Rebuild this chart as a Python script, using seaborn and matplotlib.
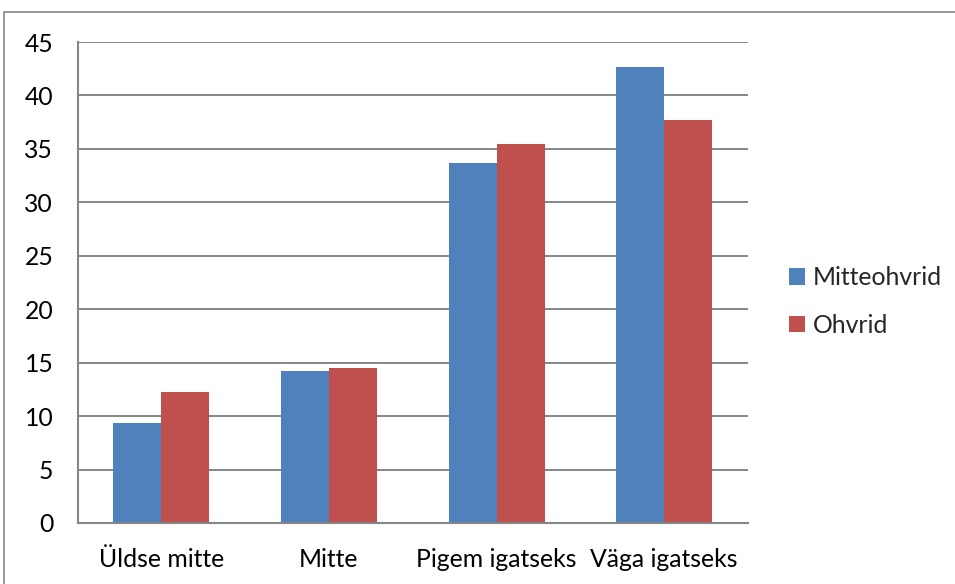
import matplotlib
matplotlib.use("Agg")
import matplotlib.pyplot as plt
import seaborn as sns
import pandas as pd
from matplotlib.patches import Rectangle, Patch

categories = ["Üldse mitte", "Mitte", "Pigem igatseks", "Väga igatseks"]
series_names = ["Mitteohvrid", "Ohvrid"]
mitteohvrid = [9.4, 14.2, 33.7, 42.7]
ohvrid = [12.3, 14.5, 35.45, 37.7]
y_ticks = [0, 5, 10, 15, 20, 25, 30, 35, 40, 45]
colors = ["#4F81BD", "#C0504D"]

df = pd.DataFrame({
    "cat": categories * 2,
    "series": [series_names[0]] * 4 + [series_names[1]] * 4,
    "value": mitteohvrid + ohvrid,
})

sns.set_style("white")
plt.rcParams["font.family"] = ["Lato", "DejaVu Sans"]
FS = 17.8

fig = plt.figure(figsize=(9.55, 5.84), dpi=100)
ax = fig.add_axes([77.5 / 955, (584 - 523) / 584, (748 - 77.5) / 955, (523 - 42) / 584])

sns.barplot(data=df, x="cat", y="value", hue="series", palette=colors,
            width=0.572, gap=0, ax=ax, legend=False, saturation=1,
            edgecolor="none", linewidth=0, zorder=3)

ax.set_ylim(0, 45)
ax.set_xlim(-0.5, 3.5)
ax.set_yticks(y_ticks)
ax.set_yticklabels([str(t) for t in y_ticks], fontsize=FS, color="#000000")
ax.set_xlabel("")
ax.set_ylabel("")
ax.set_xticks(range(4))
ax.set_xticklabels(categories, fontsize=FS, color="#000000")
ax.set_xticks([-0.5, 0.5, 1.5, 2.5, 3.5], minor=True)
ax.tick_params(axis="x", which="major", length=0, pad=18)
ax.tick_params(axis="x", which="minor", length=7, width=1.5, color="#868686", direction="out")
ax.tick_params(axis="y", which="major", length=7, width=1.5, color="#868686", direction="out", pad=10.5)

ax.yaxis.grid(True, color="#868686", linewidth=1.4, zorder=0)
ax.set_axisbelow(True)
for s in ["top", "right"]:
    ax.spines[s].set_visible(False)
for s in ["left", "bottom"]:
    ax.spines[s].set_color("#868686")
    ax.spines[s].set_linewidth(1.5)
    ax.spines[s].set_zorder(4)

handles = [Patch(facecolor=c, edgecolor="none") for c in colors]
leg = fig.legend(handles, series_names, loc="upper left",
                 bbox_to_anchor=(789 / 955, (584 - 266) / 584),
                 frameon=False, fontsize=FS, handlelength=0.65, handleheight=0.65,
                 handletextpad=0.3, labelspacing=1.0, borderaxespad=0,
                 borderpad=0)

fig.patches.append(Rectangle((4 / 955, -0.05), 1.2, (584 - 12) / 584 + 0.05,
                             transform=fig.transFigure, fill=False,
                             edgecolor="#868686", linewidth=1.2))

fig.savefig("out.png", dpi=100)
